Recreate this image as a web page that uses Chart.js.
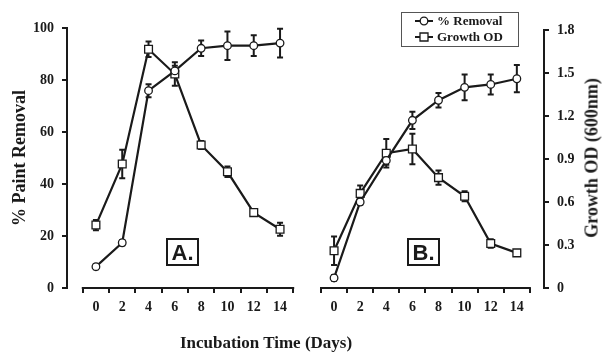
<!DOCTYPE html>
<html>
<head>
<meta charset="utf-8">
<script src="https://cdn.jsdelivr.net/npm/chart.js@4.4.1/dist/chart.umd.min.js"></script>
<style>
  body { margin: 0; background: #fff; width: 602px; height: 352px; overflow: hidden; position: relative; }
  canvas { position: absolute; top: 0; }
  #chartA { left: 0; }
  #chartB { left: 300px; }
  .panel { position: absolute; width: 29px; height: 24px; border: 2px solid #1a1a1a; font: bold 22px 'Liberation Sans', Arial, sans-serif; color: #1a1a1a; text-align: center; line-height: 25px; }
  .title { position: absolute; font: bold 17px 'Liberation Serif', 'Times New Roman', serif; color: #1a1a1a; white-space: nowrap; }
</style>
</head>
<body>
<canvas id="chartA" width="300" height="352"></canvas>
<canvas id="chartB" width="302" height="352"></canvas>
<div class="panel" style="left:166px; top:238px;">A.</div>
<div class="panel" style="left:407px; top:238px;">B.</div>
<div class="title" style="left:266px; top:343px; transform: translate(-50%, -50%);">Incubation Time (Days)</div>
<div class="title" style="left:592px; top:158px; font-size:18px; transform: translate(-50%, -50%) rotate(-90deg);">Growth OD (600nm)</div>
<script>
const days = [0, 2, 4, 6, 8, 10, 12, 14]
const tickDays = [-1, 0, 1, 2, 3, 4, 5, 6, 7, 8, 9, 10, 11, 12, 13, 14, 15]

// panel A, read on the left axis (%)
const removalA = [8.2, 17.4, 75.9, 83.5, 92.2, 93.2, 93.2, 94.2]
const removalAErr = [1, 1, 2.5, 2, 3, 5.5, 4, 5.5]
const growthA = [24.2, 47.7, 91.8, 82.3, 55, 44.7, 29, 22.6]
const growthAErr = [2, 5.5, 3, 4.5, 1.5, 2, 1, 2.5]

// panel B, read on the right axis (OD)
const removalB = [0.07, 0.60, 0.89, 1.17, 1.31, 1.40, 1.42, 1.46]
const removalBErr = [0.02, 0.02, 0.03, 0.06, 0.05, 0.09, 0.07, 0.095]
const growthB = [0.26, 0.66, 0.94, 0.97, 0.77, 0.64, 0.31, 0.245]
const growthBErr = [0.1, 0.055, 0.1, 0.107, 0.05, 0.035, 0.03, 0.01]

const leftTicks = [0, 20, 40, 60, 80, 100]
const rightTicks = [0, 0.3, 0.6, 0.9, 1.2, 1.5, 1.8]

const ink = '#1a1a1a'
const tickFont = { family: "'Liberation Serif', 'Times New Roman', serif", size: 14, weight: 'bold' }

function pts(vals) {
  return days.map((d, i) => ({ x: d, y: vals[i] }))
}

function series(label, vals, errs, style) {
  return {
    label: label,
    data: pts(vals),
    errors: errs,
    borderColor: ink,
    borderWidth: 2.2,
    backgroundColor: '#fff',
    pointStyle: style,
    pointRadius: style === 'rect' ? 5.5 : 3.8,
    pointBorderWidth: 1.3,
    pointBorderColor: ink,
    pointBackgroundColor: '#fff',
    tension: 0
  }
}

// error bars drawn under the markers
const errorBars = {
  id: 'errorBars',
  beforeDatasetsDraw(chart) {
    const { ctx } = chart
    const x = chart.scales.x, y = chart.scales.y
    ctx.save()
    ctx.strokeStyle = ink
    ctx.lineWidth = 2
    chart.data.datasets.forEach(ds => {
      ds.data.forEach((p, i) => {
        const e = ds.errors[i]
        const px = x.getPixelForValue(p.x)
        const t = y.getPixelForValue(p.y + e)
        const b = y.getPixelForValue(p.y - e)
        ctx.beginPath()
        ctx.moveTo(px, t); ctx.lineTo(px, b)
        ctx.moveTo(px - 3, t); ctx.lineTo(px + 3, t)
        ctx.moveTo(px - 3, b); ctx.lineTo(px + 3, b)
        ctx.stroke()
      })
    })
    ctx.restore()
  }
}

// x axis line only spans -1..15, leaving a gap next to the y axis
const xBaseline = {
  id: 'xBaseline',
  afterDraw(chart) {
    const { ctx } = chart
    const x = chart.scales.x
    ctx.save()
    ctx.strokeStyle = ink
    ctx.lineWidth = 2
    ctx.beginPath()
    ctx.moveTo(x.getPixelForValue(-1) - 1, x.top)
    ctx.lineTo(x.getPixelForValue(15) + 1, x.top)
    ctx.stroke()
    ctx.restore()
  }
}

const boxLegend = {
  id: 'boxLegend',
  afterDraw(chart) {
    const { ctx } = chart
    ctx.save()
    ctx.strokeStyle = '#555'
    ctx.lineWidth = 1
    ctx.strokeRect(101.5, 12.5, 117, 34)
    ctx.font = "bold 13px 'Liberation Serif', 'Times New Roman', serif"
    ctx.fillStyle = ink
    ctx.textBaseline = 'middle'
    chart.data.datasets.forEach((ds, i) => {
      const yy = 21 + i * 16
      ctx.strokeStyle = ink
      ctx.lineWidth = 2
      ctx.beginPath(); ctx.moveTo(115, yy); ctx.lineTo(133, yy); ctx.stroke()
      ctx.fillStyle = '#fff'
      ctx.lineWidth = 1.3
      ctx.beginPath()
      if (ds.pointStyle === 'rect') ctx.rect(120, yy - 4, 8, 8)
      else ctx.arc(124, yy, 3.8, 0, Math.PI * 2)
      ctx.fill(); ctx.stroke()
      ctx.fillStyle = ink
      ctx.fillText(ds.label, 137, yy + 1)
    })
    ctx.restore()
  }
}

function xScale(min, max) {
  return {
    type: 'linear',
    min: min,
    max: max,
    afterBuildTicks: s => { s.ticks = tickDays.map(v => ({ value: v })) },
    afterFit: s => { s.height = 64 },
    border: { display: false },
    grid: {
      drawOnChartArea: false,
      tickLength: 5,
      lineWidth: 2,
      color: c => (c.tick && Math.abs(c.tick.value % 2) === 1) ? ink : 'rgba(0,0,0,0)'
    },
    ticks: {
      autoSkip: false,
      maxRotation: 0,
      padding: 6,
      color: ink,
      font: tickFont,
      callback: v => (v % 2 === 0 ? String(v) : '')
    }
  }
}

function yScale(pos, max, list, width, fmt) {
  return {
    type: 'linear',
    position: pos,
    min: 0,
    max: max,
    afterBuildTicks: s => { s.ticks = list.map(v => ({ value: v })) },
    afterFit: s => { s.width = width },
    border: { display: true, color: ink, width: 2 },
    grid: { drawOnChartArea: false, tickLength: 5, lineWidth: 2, color: ink },
    ticks: { padding: 8, color: ink, font: tickFont, callback: fmt }
  }
}

const scalesA = {
  x: xScale(-2.2, 15),
  y: yScale('left', 100, leftTicks, 67, v => String(v))
}
scalesA.y.title = {
  display: true,
  text: '% Paint Removal',
  color: ink,
  font: { family: "'Liberation Serif', 'Times New Roman', serif", size: 18, weight: 'bold' },
  padding: { top: 10, bottom: 0 }
}

new Chart(document.getElementById('chartA').getContext('2d'), {
  type: 'line',
  data: {
    datasets: [
      series('% Removal', removalA, removalAErr, 'circle'),
      series('Growth OD', growthA, growthAErr, 'rect')
    ]
  },
  options: {
    responsive: false,
    animation: false,
    layout: { padding: { top: 28, right: 6, left: 0, bottom: 0 } },
    plugins: { legend: { display: false }, tooltip: { enabled: false } },
    scales: scalesA
  },
  plugins: [errorBars, xBaseline]
})

new Chart(document.getElementById('chartB').getContext('2d'), {
  type: 'line',
  data: {
    datasets: [
      series('% Removal', removalB, removalBErr, 'circle'),
      series('Growth OD', growthB, growthBErr, 'rect')
    ]
  },
  options: {
    responsive: false,
    animation: false,
    layout: { padding: { top: 30, right: 0, left: 21, bottom: 0 } },
    plugins: { legend: { display: false }, tooltip: { enabled: false } },
    scales: {
      x: xScale(-1, 16.08),
      y: yScale('right', 1.8, rightTicks, 58, v => (v === 0 ? '0' : v.toFixed(1)))
    }
  },
  plugins: [errorBars, xBaseline, boxLegend]
})
</script>
</body>
</html>
